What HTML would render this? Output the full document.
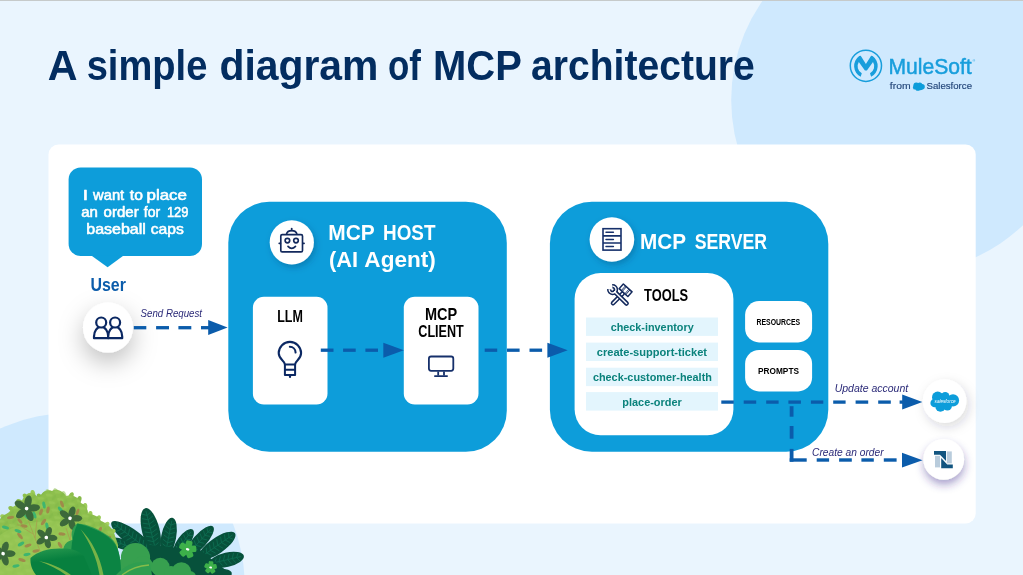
<!DOCTYPE html>
<html lang="en">
<head>
<meta charset="utf-8">
<title>A simple diagram of MCP architecture</title>
<style>
  html, body { margin: 0; padding: 0; background: #EAF5FE; }
  body { width: 1023px; height: 575px; overflow: hidden; position: relative; }
  svg { position: absolute; left: 0; top: 0; display: block; opacity: 0.999; }
  text { font-family: "Liberation Sans", sans-serif; }
  .b { font-weight: bold; }
  .m { font-weight: normal; stroke-linejoin: round; }
  .i { font-style: italic; }
</style>
</head>
<body>
<svg width="1023" height="575" viewBox="0 0 1023 575">
  <defs>
    <filter id="sh1" x="-120%" y="-120%" width="340%" height="340%">
      <feDropShadow dx="0" dy="10" stdDeviation="12" flood-color="#000000" flood-opacity="0.25"/>
    </filter>
    <filter id="sh2" x="-60%" y="-60%" width="220%" height="220%">
      <feDropShadow dx="2" dy="3" stdDeviation="3" flood-color="#03345F" flood-opacity="0.30"/>
    </filter>
    <filter id="sh4" x="-60%" y="-60%" width="220%" height="220%">
      <feDropShadow dx="2.5" dy="4" stdDeviation="5.5" flood-color="#1A1A3A" flood-opacity="0.17"/>
    </filter>
    <filter id="sh3" x="-60%" y="-60%" width="220%" height="220%">
      <feDropShadow dx="0.5" dy="5" stdDeviation="4.5" flood-color="#35268A" flood-opacity="0.42"/>
    </filter>
    <linearGradient id="lg1" x1="0" y1="0" x2="0" y2="1"><stop offset="0" stop-color="#3BA257"/><stop offset="0.55" stop-color="#0B8443"/><stop offset="1" stop-color="#07803F"/></linearGradient>
    <linearGradient id="lg2" x1="0" y1="0" x2="0.3" y2="1"><stop offset="0" stop-color="#2A9A50"/><stop offset="0.5" stop-color="#07803F"/></linearGradient>
  <pattern id="scales" width="9" height="8" patternUnits="userSpaceOnUse" patternTransform="rotate(-20)">
      <ellipse cx="2.5" cy="2" rx="3.6" ry="1.5" fill="#9CCB5A" transform="rotate(25 2.5 2)"/>
      <ellipse cx="7" cy="6" rx="3.6" ry="1.5" fill="#82B849" transform="rotate(-25 7 6)"/>
    </pattern>
  </defs>

  <!-- BACKGROUND -->
  <rect x="0" y="0" width="1023" height="575" fill="#EAF5FE"/>
  <circle cx="904" cy="100" r="172.8" fill="#CFE9FE"/>
  <circle cx="71.7" cy="586" r="173" fill="#CFE9FE"/>
  <rect x="0" y="0" width="1023" height="1" fill="#C6CACA"/>

  <!-- TITLE -->
  <g id="title" class="b" font-size="41.6" fill="#032D60">
    <text x="47.67" y="80.0" textLength="29.78" lengthAdjust="spacingAndGlyphs">A</text>
    <text x="86.70" y="80.0" textLength="120.64" lengthAdjust="spacingAndGlyphs">simple</text>
    <text x="219.44" y="80.0" textLength="159.01" lengthAdjust="spacingAndGlyphs">diagram</text>
    <text x="388.00" y="80.0" textLength="32.90" lengthAdjust="spacingAndGlyphs">of</text>
    <text x="433.09" y="80.0" textLength="88.82" lengthAdjust="spacingAndGlyphs">MCP</text>
    <text x="531.05" y="80.0" textLength="223.74" lengthAdjust="spacingAndGlyphs">architecture</text>
  </g>

  <!-- CARD -->
  <rect x="48.5" y="144.5" width="927.2" height="379" rx="10" ry="10" fill="#FFFFFF"/>

  <!-- SPEECH BUBBLE -->
  <g id="bubble">
    <rect x="68.6" y="167.5" width="133.4" height="88.6" rx="12" ry="12" fill="#0D9DDA"/>
    <path d="M91.3 255.5 L123.6 255.5 L107.6 267.3 Z" fill="#0D9DDA"/>
    <text x="82.72" y="200.1" font-size="13.9" fill="#FFFFFF" class="m" stroke="#FFFFFF" stroke-width="0.55" textLength="5.29" lengthAdjust="spacingAndGlyphs">I</text>
    <text x="93.04" y="200.1" font-size="13.9" fill="#FFFFFF" class="m" stroke="#FFFFFF" stroke-width="0.55" textLength="31.17" lengthAdjust="spacingAndGlyphs">want</text>
    <text x="129.79" y="200.1" font-size="13.9" fill="#FFFFFF" class="m" stroke="#FFFFFF" stroke-width="0.55" textLength="13.07" lengthAdjust="spacingAndGlyphs">to</text>
    <text x="146.54" y="200.1" font-size="13.9" fill="#FFFFFF" class="m" stroke="#FFFFFF" stroke-width="0.55" textLength="40.44" lengthAdjust="spacingAndGlyphs">place</text>
    <text x="81.15" y="216.9" font-size="13.9" fill="#FFFFFF" class="m" stroke="#FFFFFF" stroke-width="0.55" textLength="16.67" lengthAdjust="spacingAndGlyphs">an</text>
    <text x="103.61" y="216.9" font-size="13.9" fill="#FFFFFF" class="m" stroke="#FFFFFF" stroke-width="0.55" textLength="35.05" lengthAdjust="spacingAndGlyphs">order</text>
    <text x="143.78" y="216.9" font-size="13.9" fill="#FFFFFF" class="m" stroke="#FFFFFF" stroke-width="0.55" textLength="16.38" lengthAdjust="spacingAndGlyphs">for</text>
    <text x="166.90" y="216.9" font-size="13.9" fill="#FFFFFF" class="m" stroke="#FFFFFF" stroke-width="0.55" textLength="21.53" lengthAdjust="spacingAndGlyphs">129</text>
    <text x="86.24" y="233.8" font-size="13.9" fill="#FFFFFF" class="m" stroke="#FFFFFF" stroke-width="0.55" textLength="59.67" lengthAdjust="spacingAndGlyphs">baseball</text>
    <text x="150.75" y="233.8" font-size="13.9" fill="#FFFFFF" class="m" stroke="#FFFFFF" stroke-width="0.55" textLength="33.19" lengthAdjust="spacingAndGlyphs">caps</text>
  </g>

  <!-- USER -->
  <text x="90.45" y="290.5" font-size="17.6" fill="#0B5CAB" class="b" textLength="35.40" lengthAdjust="spacingAndGlyphs">User</text>
  <circle cx="108" cy="327.6" r="25" fill="#FFFFFF" filter="url(#sh1)"/>

  <!-- MCP HOST -->
  <rect x="228.3" y="201.8" width="278.5" height="250" rx="41" ry="41" fill="#0D9DDA"/>
  <circle cx="291.8" cy="242.3" r="22.1" fill="#FFFFFF" filter="url(#sh2)"/>
  <text x="328.28" y="239.8" font-size="22.2" fill="#FFFFFF" class="b" textLength="46.49" lengthAdjust="spacingAndGlyphs">MCP</text>
  <text x="383.03" y="239.8" font-size="22.2" fill="#FFFFFF" class="b" textLength="52.42" lengthAdjust="spacingAndGlyphs">HOST</text>
  <text x="329.12" y="266.6" font-size="22.2" fill="#FFFFFF" class="b" textLength="28.98" lengthAdjust="spacingAndGlyphs">(AI</text>
  <text x="364.34" y="266.6" font-size="22.2" fill="#FFFFFF" class="b" textLength="71.48" lengthAdjust="spacingAndGlyphs">Agent)</text>

  <rect x="252.9" y="296.7" width="74.6" height="107.7" rx="11" ry="11" fill="#FFFFFF"/>
  <text x="290.00" y="322" font-size="16.6" fill="#000000" class="b" text-anchor="middle" textLength="25.67" lengthAdjust="spacingAndGlyphs">LLM</text>

  <rect x="403.8" y="296.7" width="74.7" height="107.7" rx="11" ry="11" fill="#FFFFFF"/>
  <text x="441.12" y="319.8" font-size="15.7" fill="#000000" class="b" text-anchor="middle" textLength="32.26" lengthAdjust="spacingAndGlyphs">MCP</text>
  <text x="441.05" y="337.2" font-size="15.7" fill="#000000" class="b" text-anchor="middle" textLength="45.51" lengthAdjust="spacingAndGlyphs">CLIENT</text>

  <!-- MCP SERVER -->
  <rect x="549.9" y="201.8" width="278.4" height="250" rx="42" ry="42" fill="#0D9DDA"/>
  <circle cx="611.9" cy="239.5" r="22.3" fill="#FFFFFF" filter="url(#sh2)"/>
  <text x="639.96" y="249.1" font-size="22.4" fill="#FFFFFF" class="b" textLength="46.03" lengthAdjust="spacingAndGlyphs">MCP</text>
  <text x="694.65" y="249.1" font-size="22.4" fill="#FFFFFF" class="b" textLength="72.50" lengthAdjust="spacingAndGlyphs">SERVER</text>

  <rect x="574.6" y="272.9" width="158.8" height="162.4" rx="26" ry="26" fill="#FFFFFF"/>
  <text x="644.05" y="301" font-size="15.6" fill="#000000" class="b" textLength="44.07" lengthAdjust="spacingAndGlyphs">TOOLS</text>

  <g id="rows">
    <rect x="586" y="317.5" width="132" height="18.4" fill="#E3F5FD"/>
    <rect x="586" y="342.6" width="132" height="18.4" fill="#E3F5FD"/>
    <rect x="586" y="367.7" width="132" height="18.4" fill="#E3F5FD"/>
    <rect x="586" y="392.1" width="132" height="18.5" fill="#E3F5FD"/>
    <text x="652.20" y="330.8" font-size="11.7" fill="#0B827C" class="b" text-anchor="middle" textLength="83.00" lengthAdjust="spacingAndGlyphs">check-inventory</text>
    <text x="651.90" y="355.8" font-size="11.7" fill="#0B827C" class="b" text-anchor="middle" textLength="110.25" lengthAdjust="spacingAndGlyphs">create-support-ticket</text>
    <text x="652.41" y="380.8" font-size="11.7" fill="#0B827C" class="b" text-anchor="middle" textLength="119.01" lengthAdjust="spacingAndGlyphs">check-customer-health</text>
    <text x="652.03" y="405.6" font-size="11.7" fill="#0B827C" class="b" text-anchor="middle" textLength="59.51" lengthAdjust="spacingAndGlyphs">place-order</text>
  </g>

  <rect x="745.1" y="301.1" width="67" height="41.3" rx="14" ry="14" fill="#FFFFFF"/>
  <text x="778.35" y="325" font-size="8.6" fill="#000000" class="b" text-anchor="middle" textLength="43.71" lengthAdjust="spacingAndGlyphs">RESOURCES</text>
  <rect x="745.1" y="349.9" width="67" height="41.5" rx="14" ry="14" fill="#FFFFFF"/>
  <text x="778.51" y="374.4" font-size="9.9" fill="#000000" class="b" text-anchor="middle" textLength="40.93" lengthAdjust="spacingAndGlyphs">PROMPTS</text>

  <!-- OUTPUT CIRCLES -->
  <circle cx="944.6" cy="401.1" r="21.8" fill="#FFFFFF" filter="url(#sh4)"/>
  <circle cx="943.7" cy="459.4" r="20.4" fill="#FFFFFF" filter="url(#sh3)"/>

  <!-- LABELS -->
  <text x="140.55" y="316.9" font-size="10.6" fill="#2B2A78" class="i" textLength="61.50" lengthAdjust="spacingAndGlyphs">Send Request</text>
  <text x="834.65" y="391.5" font-size="10.4" fill="#2B2A78" class="i" textLength="73.55" lengthAdjust="spacingAndGlyphs">Update account</text>
  <text x="812.04" y="455.8" font-size="10.5" fill="#2B2A78" class="i" textLength="71.55" lengthAdjust="spacingAndGlyphs">Create an order</text>

  <!-- ARROWS -->
  <g id="arrows" fill="#0B5CAB" stroke="none">
    <rect x="133.8" y="326.05" width="12.5" height="3.3"/><rect x="156.1" y="326.05" width="12.9" height="3.3"/><rect x="178.4" y="326.05" width="12.9" height="3.3"/><rect x="201.0" y="326.05" width="8.0" height="3.3"/><path d="M208.2 320.1 L227.6 327.5 L208.2 334.9 Z"/>
    <rect x="320.8" y="348.55" width="12.7" height="3.3"/><rect x="343.1" y="348.55" width="12.6" height="3.3"/><rect x="365.4" y="348.55" width="12.6" height="3.3"/><path d="M383.3 342.8 L403.9 350.3 L383.3 357.8 Z"/>
    <rect x="484.7" y="348.55" width="12.5" height="3.3"/><rect x="507.0" y="348.55" width="12.6" height="3.3"/><rect x="529.5" y="348.55" width="12.6" height="3.3"/><path d="M547.4 342.8 L567.7 350.3 L547.4 357.8 Z"/>
    <rect x="721.3" y="400.45" width="12.5" height="3.3"/><rect x="743.7" y="400.45" width="12.5" height="3.3"/><rect x="766.2" y="400.45" width="12.4" height="3.3"/><rect x="788.4" y="400.45" width="12.5" height="3.3"/><rect x="810.9" y="400.45" width="12.4" height="3.3"/><rect x="833.2" y="400.45" width="12.4" height="3.3"/><rect x="855.6" y="400.45" width="12.6" height="3.3"/><rect x="878.2" y="400.45" width="12.6" height="3.3"/><rect x="899.6" y="400.45" width="3.4" height="3.3"/><path d="M902.2 394.6 L922.4 402.1 L902.2 409.6 Z"/>
    <rect x="789.70" y="406.2" width="3.8" height="10.5"/><rect x="789.70" y="426.0" width="3.8" height="12.7"/><rect x="789.70" y="448.9" width="3.8" height="12.8"/><rect x="789.7" y="458.30" width="17.0" height="3.4"/><rect x="816.7" y="458.30" width="12.4" height="3.4"/><rect x="839.1" y="458.30" width="12.7" height="3.4"/><rect x="861.4" y="458.30" width="12.4" height="3.4"/><rect x="883.8" y="458.30" width="12.8" height="3.4"/><path d="M902 452.8 L922.5 460.2 L902 467.6 Z"/>
  </g>

  <!-- ICONS -->
  <g id="icons">
    <!-- users -->
    <g fill="#FFFFFF" stroke="#0B2863" stroke-width="2.2" stroke-linejoin="round">
      <path d="M94 338.2 V336.5 A7.1 9.6 0 0 1 108.2 336.5 V338.2 Z"/>
      <path d="M108.2 338.2 V336.5 A7 9.6 0 0 1 122.2 336.5 V338.2 Z"/>
      <circle cx="101.2" cy="322.5" r="5"/>
      <circle cx="115.1" cy="322.5" r="5"/>
    </g>
    <!-- robot -->
    <g fill="none" stroke="#13295C" stroke-width="1.65" stroke-linecap="round" stroke-linejoin="round">
      <path d="M286.4 234.4 A5.4 4.6 0 0 1 297 234.4"/>
      <path d="M291.7 228.6 V230.4"/>
      <rect x="280.8" y="234.6" width="21.7" height="17.2" rx="1.4" ry="1.4" fill="#FFFFFF"/>
      <path d="M279.2 243.4 H280.4 M302.9 243.4 H304.1"/>
      <circle cx="287.4" cy="240.6" r="2.3"/>
      <circle cx="296" cy="240.6" r="2.3"/>
      <path d="M288 246.4 Q291.7 250.4 295.5 246.4"/>
    </g>
    <!-- bulb -->
    <g fill="none" stroke="#0B2863" stroke-width="2.1" stroke-linecap="round" stroke-linejoin="round">
      <path d="M284.9 364.6 C284.9 360.4 278.7 359.6 278.7 353.1 A11.2 11.2 0 0 1 301.1 353.1 C301.1 359.6 295.1 360.4 295.1 364.6"/>
      <path d="M284.9 364.6 H295.1 V375 H284.9 Z M284.9 369.8 H295.1" stroke-width="2" stroke-linecap="butt"/>
      <path d="M290 375 V377" stroke-width="2.2"/>
      <path d="M289.8 346.8 A6 6 0 0 1 295.6 352.6" stroke-width="2"/>
    </g>
    <!-- monitor -->
    <g fill="none" stroke="#16306B" stroke-width="1.8" stroke-linecap="round" stroke-linejoin="round">
      <rect x="428.9" y="356.5" width="24.4" height="14.3" rx="2.2" ry="2.2"/>
      <path d="M438.2 371.4 V375.4 M444 371.4 V375.4" stroke-linecap="butt"/>
      <path d="M434.9 376.1 H447.1"/>
    </g>
    <!-- server -->
    <g fill="none" stroke="#16306B" stroke-linejoin="miter">
      <rect x="603" y="228.7" width="18" height="21.4" stroke-width="1.6" fill="#FFFFFF"/>
      <path d="M603 235.9 H621 M603 243 H621" stroke-width="1.6"/>
      <path d="M606 232.3 H613.4 M606 239.5 H613.4 M606 246.6 H613.4" stroke-width="1.5" stroke-linecap="round"/>
    </g>
    <!-- tools -->
    <g stroke-linecap="round" stroke-linejoin="round">
      <path d="M613 303.2 L622.6 293.6" stroke="#13295C" stroke-width="4.6" fill="none"/>
      <path d="M613 303.2 L622.6 293.6" stroke="#FFFFFF" stroke-width="1.5" fill="none"/>
      <rect x="619.75" y="287.1" width="11.7" height="6.3" transform="rotate(42 625.6 290.25)" fill="#FFFFFF" stroke="#13295C" stroke-width="1.6"/>
      <path d="M622.6 287.1 V293.4 M623.9 287.1 V293.4 M627.4 287.1 V293.4 M628.7 287.1 V293.4" transform="rotate(42 625.6 290.25)" stroke="#13295C" stroke-width="0.9" fill="none" stroke-linecap="butt"/>
      <path d="M612.3 286.2 A3.4 3.4 0 1 1 609.2 289.3" stroke="#13295C" stroke-width="4.4" fill="none" stroke-linecap="butt"/>
      <path d="M614.6 291.7 L626.6 303.5" stroke="#13295C" stroke-width="4.6" fill="none"/>
      <path d="M612.3 286.2 A3.4 3.4 0 1 1 609.2 289.3" stroke="#FFFFFF" stroke-width="1.3" fill="none" stroke-linecap="butt"/>
      <path d="M614.6 291.7 L626.6 303.5" stroke="#FFFFFF" stroke-width="1.5" fill="none"/>
    </g>
    <!-- salesforce cloud -->
    <g fill="#0D9DDA">
      <circle cx="937.7" cy="397.3" r="5.7"/>
      <circle cx="945.2" cy="396.3" r="4.3"/>
      <circle cx="953" cy="400.4" r="6.1"/>
      <circle cx="934.7" cy="403" r="4.3"/>
      <circle cx="940.4" cy="406.7" r="5"/>
      <circle cx="947.4" cy="406.2" r="4.4"/>
      <rect x="936" y="397" width="16" height="9"/>
      <text x="945.1" y="403.4" font-size="5.2" fill="#FFFFFF" class="i" text-anchor="middle" textLength="21" lengthAdjust="spacingAndGlyphs">salesforce</text>
    </g>
    <!-- netsuite -->
    <g>
      <rect x="935" y="455.8" width="5" height="11.6" fill="#B9CCDC"/>
      <rect x="946.8" y="451.4" width="5" height="12" fill="#B9CCDC"/>
      <path d="M934 451 H946 V461 L940 454.8 H934 Z" fill="#125580"/>
      <path d="M952.8 468.2 H941.2 V458 L947.2 464.6 H952.8 Z" fill="#125580"/>
    </g>
  </g>

  <!-- LOGO -->
  <g id="logo">
    <circle cx="865.9" cy="65.8" r="15.6" fill="none" stroke="#189EDC" stroke-width="1.5"/>
    <path d="M860.7 76.8 A12.3 12.3 0 0 1 859.25 55.9 L860.7 55.7 L865.9 64.1 L871.1 55.7 L872.55 55.9 A12.3 12.3 0 0 1 871.1 76.8 L870 73.3 A8.1 8.1 0 0 0 873 61.9 L866.9 70.4 L864.9 70.4 L858.8 61.9 A8.1 8.1 0 0 0 861.8 73.3 Z" fill="#189EDC"/>
    <text x="888.45" y="73.5" font-size="22" fill="#189EDC" stroke="#189EDC" stroke-width="0.5" textLength="83.30" lengthAdjust="spacingAndGlyphs">MuleSoft</text>
    <text x="972.4" y="62" font-size="3.6" fill="#189EDC">®</text>
    <text x="889.85" y="89.4" font-size="9.4" fill="#24477A" stroke="#24477A" stroke-width="0.15" textLength="20.75" lengthAdjust="spacingAndGlyphs">from</text>
    <g fill="#0D9DDA"><circle cx="916.3" cy="85.4" r="2.9"/><circle cx="919.8" cy="85" r="2.5"/><circle cx="922.1" cy="86.8" r="2.7"/><circle cx="915.1" cy="87.4" r="2.2"/><circle cx="917.9" cy="88.2" r="2.6"/><circle cx="920.6" cy="88" r="2.3"/></g>
    <text x="926.49" y="89.4" font-size="9.4" fill="#24477A" stroke="#24477A" stroke-width="0.15" textLength="45.51" lengthAdjust="spacingAndGlyphs">Salesforce</text>
  </g>

  <!-- PLANTS -->
  <g id="plants">
    <g id="ferns">
      <g transform="translate(122 544) rotate(-70)"><ellipse cx="0" cy="0" rx="5.0" ry="13.0" fill="#07513B"/><path d="M0 -10.0 V13.0 M-3.3 -8.1 L0 -5.5 L3.3 -8.1 M-3.6 -3.6 L0 -1.0 L3.6 -3.6 M-3.5 0.9 L0 3.5 L3.5 0.9 M-2.8 5.4 L0 8.0 L2.8 5.4" fill="none" stroke="#0E6E52" stroke-width="0.8"/></g>
      <g transform="translate(133.2 538.3) rotate(-53)"><ellipse cx="0" cy="0" rx="7.8" ry="27.0" fill="#07513B"/><path d="M0 -24.0 V27.0 M-3.9 -22.1 L0 -19.5 L3.9 -22.1 M-4.6 -17.6 L0 -15.0 L4.6 -17.6 M-5.1 -13.1 L0 -10.5 L5.1 -13.1 M-5.4 -8.6 L0 -6.0 L5.4 -8.6 M-5.6 -4.1 L0 -1.5 L5.6 -4.1 M-5.5 0.4 L0 3.0 L5.5 0.4 M-5.4 4.9 L0 7.5 L5.4 4.9 M-5.0 9.4 L0 12.0 L5.0 9.4 M-4.4 13.9 L0 16.5 L4.4 13.9 M-3.5 18.4 L0 21.0 L3.5 18.4 M-1.8 22.9 L0 25.5 L1.8 22.9" fill="none" stroke="#0E6E52" stroke-width="0.8"/></g>
      <g transform="translate(150.8 530.5) rotate(-14)"><ellipse cx="0" cy="0" rx="8.8" ry="23.0" fill="#07513B"/><path d="M0 -20.0 V23.0 M-4.7 -18.1 L0 -15.5 L4.7 -18.1 M-5.6 -13.6 L0 -11.0 L5.6 -13.6 M-6.1 -9.1 L0 -6.5 L6.1 -9.1 M-6.3 -4.6 L0 -2.0 L6.3 -4.6 M-6.3 -0.1 L0 2.5 L6.3 -0.1 M-6.0 4.4 L0 7.0 L6.0 4.4 M-5.5 8.9 L0 11.5 L5.5 8.9 M-4.6 13.4 L0 16.0 L4.6 13.4 M-2.9 17.9 L0 20.5 L2.9 17.9" fill="none" stroke="#0E6E52" stroke-width="0.8"/></g>
      <g transform="translate(168.6 537.4) rotate(11)"><ellipse cx="0" cy="0" rx="7.5" ry="20.0" fill="#07513B"/><path d="M0 -17.0 V20.0 M-4.2 -15.1 L0 -12.5 L4.2 -15.1 M-4.9 -10.6 L0 -8.0 L4.9 -10.6 M-5.3 -6.1 L0 -3.5 L5.3 -6.1 M-5.4 -1.6 L0 1.0 L5.4 -1.6 M-5.2 2.9 L0 5.5 L5.2 2.9 M-4.7 7.4 L0 10.0 L4.7 7.4 M-3.7 11.9 L0 14.5 L3.7 11.9" fill="none" stroke="#0E6E52" stroke-width="0.8"/></g>
      <g transform="translate(183.5 542) rotate(36)"><ellipse cx="0" cy="0" rx="6.2" ry="15.5" fill="#07513B"/><path d="M0 -12.5 V15.5 M-3.9 -10.6 L0 -8.0 L3.9 -10.6 M-4.4 -6.1 L0 -3.5 L4.4 -6.1 M-4.5 -1.6 L0 1.0 L4.5 -1.6 M-4.2 2.9 L0 5.5 L4.2 2.9 M-3.4 7.4 L0 10.0 L3.4 7.4" fill="none" stroke="#0E6E52" stroke-width="0.8"/></g>
      <g transform="translate(199.6 541.3) rotate(42)"><ellipse cx="0" cy="0" rx="6.8" ry="20.0" fill="#07513B"/><path d="M0 -17.0 V20.0 M-3.8 -15.1 L0 -12.5 L3.8 -15.1 M-4.5 -10.6 L0 -8.0 L4.5 -10.6 M-4.8 -6.1 L0 -3.5 L4.8 -6.1 M-4.9 -1.6 L0 1.0 L4.9 -1.6 M-4.7 2.9 L0 5.5 L4.7 2.9 M-4.2 7.4 L0 10.0 L4.2 7.4 M-3.3 11.9 L0 14.5 L3.3 11.9" fill="none" stroke="#0E6E52" stroke-width="0.8"/></g>
      <g transform="translate(217 545.8) rotate(55)"><ellipse cx="0" cy="0" rx="7.8" ry="22.0" fill="#07513B"/><path d="M0 -19.0 V22.0 M-4.2 -17.1 L0 -14.5 L4.2 -17.1 M-5.0 -12.6 L0 -10.0 L5.0 -12.6 M-5.4 -8.1 L0 -5.5 L5.4 -8.1 M-5.6 -3.6 L0 -1.0 L5.6 -3.6 M-5.5 0.9 L0 3.5 L5.5 0.9 M-5.2 5.4 L0 8.0 L5.2 5.4 M-4.6 9.9 L0 12.5 L4.6 9.9 M-3.5 14.4 L0 17.0 L3.5 14.4" fill="none" stroke="#0E6E52" stroke-width="0.8"/></g>
      <g transform="translate(226.8 559.8) rotate(77)"><ellipse cx="0" cy="0" rx="7.2" ry="17.5" fill="#07513B"/><path d="M0 -14.5 V17.5 M-4.3 -12.6 L0 -10.0 L4.3 -12.6 M-5.0 -8.1 L0 -5.5 L5.0 -8.1 M-5.2 -3.6 L0 -1.0 L5.2 -3.6 M-5.1 0.9 L0 3.5 L5.1 0.9 M-4.6 5.4 L0 8.0 L4.6 5.4 M-3.7 9.9 L0 12.5 L3.7 9.9" fill="none" stroke="#0E6E52" stroke-width="0.8"/></g>
      <g transform="translate(214 576) rotate(80)"><ellipse cx="0" cy="0" rx="6.5" ry="18.0" fill="#07513B"/><path d="M0 -15.0 V18.0 M-3.8 -13.1 L0 -10.5 L3.8 -13.1 M-4.4 -8.6 L0 -6.0 L4.4 -8.6 M-4.7 -4.1 L0 -1.5 L4.7 -4.1 M-4.6 0.4 L0 3.0 L4.6 0.4 M-4.3 4.9 L0 7.5 L4.3 4.9 M-3.5 9.4 L0 12.0 L3.5 9.4 M-1.9 13.9 L0 16.5 L1.9 13.9" fill="none" stroke="#0E6E52" stroke-width="0.8"/></g>
      <path d="M140 575 L150 545 L200 550 L232 575 Z" fill="#07513B"/>
    </g>
    <g id="bush">
      <g id="tips"><ellipse cx="4" cy="517" rx="2.3" ry="4" fill="#9BCB58" opacity="1" transform="rotate(-67 4 517)"/><ellipse cx="12" cy="509" rx="2.3" ry="4" fill="#8DBF4D" opacity="1" transform="rotate(-57 12 509)"/><ellipse cx="20" cy="502" rx="2.3" ry="4" fill="#8DBF4D" opacity="1" transform="rotate(-62 20 502)"/><ellipse cx="26" cy="497" rx="2.3" ry="4" fill="#8DBF4D" opacity="1" transform="rotate(-43 26 497)"/><ellipse cx="33" cy="494" rx="2.3" ry="4" fill="#9BCB58" opacity="1" transform="rotate(-14 33 494)"/><ellipse cx="40" cy="497" rx="2.3" ry="4" fill="#86B948" opacity="1" transform="rotate(-41 40 497)"/><ellipse cx="48" cy="493" rx="2.3" ry="4" fill="#9BCB58" opacity="0.55" transform="rotate(-18 48 493)"/><ellipse cx="56" cy="492" rx="2.3" ry="4" fill="#86B948" opacity="0.55" transform="rotate(-24 56 492)"/><ellipse cx="64" cy="495" rx="2.3" ry="4" fill="#8DBF4D" opacity="0.55" transform="rotate(-18 64 495)"/><ellipse cx="71" cy="496" rx="2.3" ry="4" fill="#8DBF4D" opacity="1" transform="rotate(25 71 496)"/><ellipse cx="79" cy="500" rx="2.3" ry="4" fill="#86B948" opacity="1" transform="rotate(18 79 500)"/><ellipse cx="85" cy="507" rx="2.3" ry="4" fill="#9BCB58" opacity="1" transform="rotate(4 85 507)"/><ellipse cx="90" cy="515" rx="2.3" ry="4" fill="#9BCB58" opacity="1" transform="rotate(12 90 515)"/><ellipse cx="98" cy="519" rx="2.3" ry="4" fill="#9BCB58" opacity="1" transform="rotate(29 98 519)"/><ellipse cx="106" cy="525" rx="2.3" ry="4" fill="#A6D264" opacity="1" transform="rotate(47 106 525)"/><ellipse cx="112" cy="532" rx="2.3" ry="4" fill="#9BCB58" opacity="1" transform="rotate(55 112 532)"/></g>
      <path d="M0 519 C4 514 8 514 10 511 C13 505 18 505 22 501 C24 495 29 492 33 493 C36 496 38 497 40 497 C42 492 47 489 52 491 C56 488 63 491 66 496 C72 494 79 497 81 503 C86 505 88 510 88 514 C94 514 99 517 101 521 C107 523 112 528 114 533 L118 545 L118 575 L0 575 Z" fill="#8DBF4D"/>
      <path d="M0 519 C4 514 8 514 10 511 C13 505 18 505 22 501 C24 495 29 492 33 493 C36 496 38 497 40 497 C42 492 47 489 52 491 C56 488 63 491 66 496 C72 494 79 497 81 503 C86 505 88 510 88 514 C94 514 99 517 101 521 C107 523 112 528 114 533 L118 545 L118 575 L0 575 Z" fill="url(#scales)" opacity="0.55"/>
      <path d="M0 535 C20 520 60 515 95 530 L110 575 L0 575 Z" fill="#9CCB5A" opacity="0.55"/>
      <g fill="#A08A4A">
        <ellipse cx="10.5" cy="517.5" rx="3.6" ry="1.6" transform="rotate(-8 10.5 517.5)"/>
        <ellipse cx="20" cy="521" rx="3.4" ry="1.5" transform="rotate(50 20 521)"/>
        <ellipse cx="24" cy="526" rx="3.6" ry="1.6" transform="rotate(10 24 526)"/>
        <ellipse cx="41" cy="512" rx="3.4" ry="1.6" transform="rotate(-70 41 512)"/>
        <ellipse cx="48" cy="510" rx="3.6" ry="1.6" transform="rotate(-80 48 510)"/>
        <ellipse cx="43.5" cy="522" rx="3.8" ry="1.6" transform="rotate(-55 43.5 522)"/>
        <ellipse cx="62" cy="504" rx="3.6" ry="1.6" transform="rotate(70 62 504)"/>
        <ellipse cx="77.5" cy="512" rx="3.4" ry="1.5" transform="rotate(-70 77.5 512)"/>
        <ellipse cx="20" cy="536" rx="3.8" ry="1.6" transform="rotate(50 20 536)"/>
        <ellipse cx="28" cy="545.5" rx="3.6" ry="1.6" transform="rotate(-20 28 545.5)"/>
        <ellipse cx="36" cy="551" rx="3.6" ry="1.6" transform="rotate(-10 36 551)"/>
        <ellipse cx="62" cy="534" rx="3.6" ry="1.6" transform="rotate(5 62 534)"/>
        <ellipse cx="60" cy="545" rx="3.4" ry="1.6" transform="rotate(60 60 545)"/>
        <ellipse cx="22" cy="560" rx="3.8" ry="1.6" transform="rotate(20 22 560)"/>
        <ellipse cx="100" cy="530" rx="3.4" ry="1.6" transform="rotate(-70 100 530)"/>
        <ellipse cx="108" cy="538" rx="3.4" ry="1.6" transform="rotate(-30 108 538)"/>
      </g>
      <g fill="#3EB56F">
        <ellipse cx="5.5" cy="527.5" rx="3.6" ry="1.6" transform="rotate(15 5.5 527.5)"/>
        <ellipse cx="18" cy="531" rx="3.6" ry="1.6" transform="rotate(20 18 531)"/>
        <ellipse cx="34.5" cy="515" rx="3.6" ry="1.6" transform="rotate(70 34.5 515)"/>
        <ellipse cx="44" cy="505" rx="3.6" ry="1.6" transform="rotate(80 44 505)"/>
        <ellipse cx="60.5" cy="509.5" rx="3.6" ry="1.6" transform="rotate(50 60.5 509.5)"/>
        <ellipse cx="47" cy="526" rx="3.6" ry="1.6" transform="rotate(80 47 526)"/>
        <ellipse cx="21" cy="544" rx="3.6" ry="1.6" transform="rotate(-30 21 544)"/>
        <ellipse cx="27" cy="554.5" rx="3.6" ry="1.6" transform="rotate(-10 27 554.5)"/>
        <ellipse cx="16" cy="566" rx="3.6" ry="1.6" transform="rotate(-10 16 566)"/>
        <ellipse cx="27" cy="517" rx="3.4" ry="1.5" transform="rotate(40 27 517)"/>
      </g>
      <path d="M28 520 L42 556 M37 520 L35 538 M17 524 L33 534 M66 528 L70 540 M72 524 L70 540" stroke="#A99A4E" stroke-width="0.9" fill="none" opacity="0.8"/>
    </g>
    <g id="dflowers">
      <g transform="translate(26.6 508.6) rotate(12)" fill="#3C693A"><ellipse cx="0" cy="-7.04" rx="3.60" ry="6.40" transform="rotate(0)"/><ellipse cx="0" cy="-7.04" rx="3.60" ry="6.40" transform="rotate(72)"/><ellipse cx="0" cy="-7.04" rx="3.60" ry="6.40" transform="rotate(144)"/><ellipse cx="0" cy="-7.04" rx="3.60" ry="6.40" transform="rotate(216)"/><ellipse cx="0" cy="-7.04" rx="3.60" ry="6.40" transform="rotate(288)"/><circle r="1.8" fill="#FFFFFF"/></g>
      <g transform="translate(70 518.3) rotate(18)" fill="#3C693A"><ellipse cx="0" cy="-6.38" rx="3.30" ry="5.80" transform="rotate(0)"/><ellipse cx="0" cy="-6.38" rx="3.30" ry="5.80" transform="rotate(72)"/><ellipse cx="0" cy="-6.38" rx="3.30" ry="5.80" transform="rotate(144)"/><ellipse cx="0" cy="-6.38" rx="3.30" ry="5.80" transform="rotate(216)"/><ellipse cx="0" cy="-6.38" rx="3.30" ry="5.80" transform="rotate(288)"/><circle r="1.8" fill="#FFFFFF"/></g>
      <g transform="translate(46.3 537.5) rotate(22)" fill="#3C693A"><ellipse cx="0" cy="-5.83" rx="3.10" ry="5.30" transform="rotate(0)"/><ellipse cx="0" cy="-5.83" rx="3.10" ry="5.30" transform="rotate(72)"/><ellipse cx="0" cy="-5.83" rx="3.10" ry="5.30" transform="rotate(144)"/><ellipse cx="0" cy="-5.83" rx="3.10" ry="5.30" transform="rotate(216)"/><ellipse cx="0" cy="-5.83" rx="3.10" ry="5.30" transform="rotate(288)"/><circle r="1.8" fill="#FFFFFF"/></g>
      <g transform="translate(3.1 553.6) rotate(18)" fill="#3C693A"><ellipse cx="0" cy="-6.49" rx="3.40" ry="5.90" transform="rotate(0)"/><ellipse cx="0" cy="-6.49" rx="3.40" ry="5.90" transform="rotate(72)"/><ellipse cx="0" cy="-6.49" rx="3.40" ry="5.90" transform="rotate(144)"/><ellipse cx="0" cy="-6.49" rx="3.40" ry="5.90" transform="rotate(216)"/><ellipse cx="0" cy="-6.49" rx="3.40" ry="5.90" transform="rotate(288)"/><circle r="1.8" fill="#FFFFFF"/></g>
    </g>
    <g id="leaves">
      <circle cx="126" cy="567" r="9.5" fill="#37A04F"/>
      <path d="M66 556 C60 548 66 541 72.5 540 C70 532 73 526 77.5 523.5 C88 524 100 530 110 537 C117 543 121 553 121 575 L66 575 Z" fill="#2F9E50"/>
      <path d="M72.5 575 C70 560 70 540 77.5 523.5 C92 527 108 534 115 544 C120 552 121 563 121 575 Z" fill="#0B8443"/>
      <path d="M80.5 529 C92 541 100 556 103.5 575 L99.5 575 C97 558 90 543 80.5 529 Z" fill="#77B347"/>
      <path d="M30.5 558 C38 551 50 548 62 548.5 C70 548 78 550 84 556 L92 575 L36 575 C32 570 30 564 30.5 558 Z" fill="url(#lg2)"/>
      <path d="M39 561 C50 563 62 568 71 575 L66 575 C58 569 48 564.5 39 561 Z" fill="#77B347"/>
      <circle cx="135.5" cy="557.6" r="14.6" fill="#37A04F"/>
      <circle cx="143" cy="566" r="10" fill="#37A04F"/>
      <path d="M116 575 C126 563 140 560 150 563 L152 575 Z" fill="#2F9E50"/>
      <path d="M122 575 C131 568 140 565.5 149 565" stroke="#86BC4A" stroke-width="1.3" fill="none"/>
      <circle cx="160.3" cy="567" r="9.3" fill="#37A04F"/>
      <circle cx="171" cy="573" r="7" fill="#37A04F"/>
      <circle cx="181.4" cy="572" r="9.8" fill="#37A04F"/>
      <circle cx="190" cy="577" r="6" fill="#37A04F"/>
    </g>
    <g id="gflowers">
      <g transform="translate(187.6 549.3) rotate(14)" fill="#3DB04A"><rect x="-3.30" y="-8.80" width="6.60" height="10.32" rx="1.81" transform="rotate(0)"/><rect x="-3.30" y="-8.80" width="6.60" height="10.32" rx="1.81" transform="rotate(72)"/><rect x="-3.30" y="-8.80" width="6.60" height="10.32" rx="1.81" transform="rotate(144)"/><rect x="-3.30" y="-8.80" width="6.60" height="10.32" rx="1.81" transform="rotate(216)"/><rect x="-3.30" y="-8.80" width="6.60" height="10.32" rx="1.81" transform="rotate(288)"/><circle r="2.60"/><ellipse rx="1.80" ry="1.20" fill="#FFFFFF"/></g>
      <g transform="translate(210.6 567.5) rotate(5)" fill="#3DB04A"><rect x="-2.40" y="-6.30" width="4.80" height="7.42" rx="1.32" transform="rotate(0)"/><rect x="-2.40" y="-6.30" width="4.80" height="7.42" rx="1.32" transform="rotate(72)"/><rect x="-2.40" y="-6.30" width="4.80" height="7.42" rx="1.32" transform="rotate(144)"/><rect x="-2.40" y="-6.30" width="4.80" height="7.42" rx="1.32" transform="rotate(216)"/><rect x="-2.40" y="-6.30" width="4.80" height="7.42" rx="1.32" transform="rotate(288)"/><circle r="1.85"/><ellipse rx="1.44" ry="0.96" fill="#FFFFFF"/></g>
    </g>
  </g>
</svg>
</body>
</html>
